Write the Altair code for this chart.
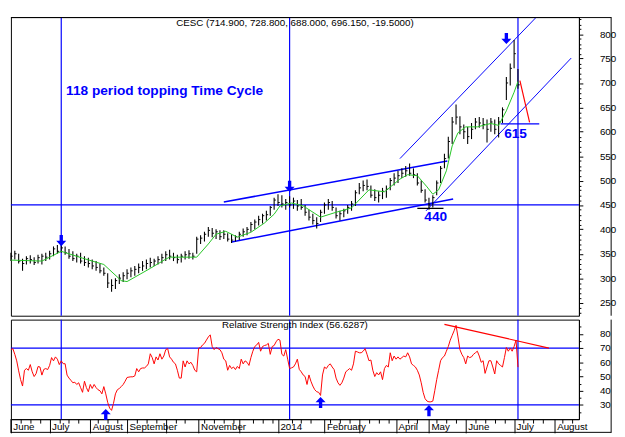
import json
import altair as alt
import pandas as pd

FONT = "Liberation Sans"
BLUE = "#0000FF"
RED = "#FF0000"
GREEN = "#22C422"

W = 582
H_PRICE = 306
H_RSI = 102

# ---------------- price bars (one bar every second session; index = session number)
bar_high = [352, 356, 350, 340, 345, 347, 343, 348, 350, 352,
            356, 365, 368, 370, 365, 360, 355, 350, 352, 345,
            342, 338, 335, 330, 322, 310, 298, 300, 308, 312,
            318, 322, 325, 330, 335, 338, 342, 340, 345, 350,
            355, 358, 352, 348, 350, 355, 357, 352, 385, 388,
            395, 405, 403, 400, 398, 398, 392, 390, 388, 395,
            402, 405, 415, 420, 428, 432, 438, 448, 465, 472,
            470, 462, 468, 465, 460, 462, 450, 440, 432, 425,
            440, 455, 462, 458, 445, 438, 442, 450, 458, 480,
            495, 500, 502, 490, 482, 478, 485, 490, 505, 515,
            520, 525, 530, 535, 525, 515, 500, 482, 465, 470,
            500, 530, 555, 590, 630, 656, 632, 615, 610, 618,
            628, 630, 628, 625, 628, 625, 630, 650, 712, 740,
            788, 728.8]
bar_low = [335, 338, 330, 315, 328, 330, 327, 330, 328, 335,
           338, 345, 350, 352, 348, 340, 335, 332, 330, 325,
           322, 318, 315, 310, 305, 280, 272, 278, 288, 292,
           298, 302, 305, 310, 315, 318, 322, 325, 328, 330,
           335, 338, 335, 330, 332, 338, 340, 338, 350, 370,
           375, 385, 384, 380, 378, 380, 375, 372, 375, 378,
           385, 388, 395, 400, 408, 412, 418, 428, 440, 448,
           445, 440, 445, 442, 438, 440, 428, 418, 410, 402,
           415, 432, 440, 438, 422, 418, 425, 432, 438, 448,
           472, 478, 480, 465, 458, 455, 462, 465, 480, 490,
           495, 505, 508, 510, 505, 490, 475, 455, 440, 445,
           470, 495, 525, 545, 575, 615, 595, 585, 575, 585,
           605, 608, 605, 578, 600, 595, 588, 618, 665, 695,
           730, 688]
bar_close = [345, 350, 335, 330, 340, 338, 332, 342, 345, 343,
             350, 360, 355, 362, 352, 345, 340, 345, 335, 332,
             330, 325, 322, 315, 310, 290, 285, 295, 300, 305,
             310, 315, 318, 322, 325, 330, 332, 335, 338, 342,
             348, 345, 342, 338, 345, 348, 350, 345, 380, 382,
             390, 398, 392, 395, 385, 390, 380, 378, 385, 390,
             395, 400, 410, 415, 420, 428, 430, 445, 460, 455,
             452, 455, 450, 458, 448, 445, 435, 425, 418, 412,
             435, 450, 455, 445, 428, 432, 438, 445, 452, 475,
             485, 490, 488, 470, 465, 470, 478, 482, 500, 505,
             510, 515, 520, 515, 512, 495, 480, 460, 450, 465,
             495, 525, 545, 580, 620, 630, 610, 600, 590, 605,
             620, 618, 615, 605, 620, 605, 620, 645, 700, 730,
             760, 696.15]

# ---------------- moving average (green)
ma_d = [0, 16, 26, 37, 48, 57, 60, 72, 80, 82, 96, 102, 106, 111, 117, 124, 131,
        136, 139, 145, 151, 160, 168, 176, 185, 193, 201, 205, 210, 215, 218, 221,
        225, 228, 231, 235, 241, 248, 252, 256, 260, 262]
ma_v = [337, 335, 355, 341, 328, 295, 293, 320, 339, 343, 343, 370, 390, 396, 384, 394, 413,
        431, 448, 454, 448, 425, 435, 444, 481, 477, 503, 512, 510, 487, 472, 481,
        520, 571, 598, 610, 610, 617, 613, 643, 681, 703]

# ---------------- RSI (one value per session)
rsi = [68.9, 69.6, 65.6, 61, 54, 47.8, 43.3, 54.4, 55.6, 54.4,
       58.4, 53.3, 50, 52, 57, 56.7, 51, 55, 55.6, 54.9,
       57.8, 63.3, 61, 63.8, 62.2, 58.4, 61, 59, 59, 51,
       48.9, 47.3, 45.6, 46, 44.4, 45.6, 42.2, 38.9, 46.7, 42.2,
       39.3, 44.4, 41.6, 44.4, 42.2, 40.7, 40, 37.8, 42.9, 37.8,
       31.8, 27.8, 26.2, 31.1, 37.8, 40.7, 41.6, 42.9, 44.4, 46.7,
       49.3, 49.6, 49.8, 49.8, 50.4, 55.6, 53.3, 55.6, 56, 56,
       57.1, 58.9, 66, 63.3, 58.9, 63.8, 61.6, 66, 62.2, 64.4,
       68.9, 69.6, 63.8, 62.2, 60, 58.9, 54.4, 48.9, 48.9, 61,
       56.7, 61, 58.9, 60, 57.8, 54.4, 53.3, 70, 70.4, 72.2,
       73.3, 75.6, 77.8, 79.3, 71.1, 68.9, 70.4, 69.6, 68.9, 66.7,
       62.2, 61, 54.4, 57.8, 55.6, 56.7, 54.9, 57.1, 55.6, 62.2,
       58.9, 61, 60, 57.8, 63.3, 67.8, 71.1, 72.2, 74, 67.8,
       71.1, 71.8, 72.2, 73.3, 65.6, 71.1, 71.8, 74.4, 76.2, 75.6,
       65.6, 64.4, 68.9, 62.2, 55.6, 56.1, 56.7, 58.9, 62.2, 55,
       53.3, 51.1, 50, 44.4, 51.1, 46.7, 43.3, 40.7, 39.3, 38.9,
       36.7, 51.1, 56.7, 55.6, 57.8, 58.9, 56.7, 54.9, 48.9, 45.6,
       43.8, 45.6, 48.9, 53.3, 54.4, 55.6, 54.4, 58.9, 67.8, 67.3,
       66.7, 66.7, 67.8, 69.6, 65.6, 61.1, 61.6, 54.4, 50, 52.7,
       51.1, 53.3, 47.8, 55.6, 57.8, 56.7, 66.7, 61.1, 64.4, 62.2,
       63.8, 62.2, 63.3, 64.4, 63.8, 66.7, 63.8, 58.9, 57.8, 56.7,
       54.4, 51.1, 45.6, 38.9, 34.4, 32.7, 32.2, 32.2, 32.7, 40,
       47.8, 54.4, 61.1, 63.3, 64.4, 67.8, 71.1, 75.6, 78.9, 82.2,
       86, 77.8, 68.9, 65.6, 63.3, 58.9, 64.4, 63.3, 63.8, 65.6,
       66.7, 67.8, 64.4, 60, 61.1, 52.2, 56.7, 61.1, 61.1, 56.7,
       51.8, 61.1, 58.9, 57.8, 56.7, 63.3, 70.4, 67.8, 70, 67.8,
       71.1, 75.6, 56.6]

# ---------------- annotations
cycle_d = [26, 144, 262]                       # 118-period time cycle
seg_d1 = [110, 114, 201, 214.5, 253, 210, 263]
seg_p1 = [456, 374, 545, 438, 616, 443, 705]
seg_d2 = [225.5, 228.5, 272, 289.5, 273, 223.5, 268]
seg_p2 = [540, 462, 837, 751, 616, 443, 619]
seg_col = [BLUE, BLUE, BLUE, BLUE, BLUE, "#000000", RED]
seg_w = [1.6, 1.6, 1, 1, 1.2, 1.2, 1.2]
top_arrow_d = [26, 144, 256]
top_arrow_p = [377, 488, 791]
low_arrow_d = [49, 160, 216]
low_arrow_r = [23.3, 31.7, 26]
rsi_trend_d = [224, 278]
rsi_trend_r = [86.7, 70]

month_d = [0, 20, 41, 60, 80, 97, 118, 138, 162, 180, 199, 216, 235, 260, 281]
month_lbl = ["June", "July", "August", "September", "", "November", "", "2014",
             "February", "", "April", "May", "June", "July", "August"]
week_d = [v for v in range(5, 294, 5) if min(abs(v - m) for m in month_d) > 2]

price_title = "CESC (714.900, 728.800, 688.000, 696.150, -19.5000)"
rsi_title = "Relative Strength Index (56.6287)"

# ---------------- frames
bars = pd.DataFrame({"d": [2 * i for i in range(len(bar_high))],
                     "high": bar_high, "low": bar_low, "close": bar_close})
ma = pd.DataFrame({"d": ma_d, "v": ma_v})
rsi_df = pd.DataFrame({"d": list(range(len(rsi))), "r": rsi})
segs = pd.DataFrame({"d1": seg_d1, "p1": seg_p1, "d2": seg_d2, "p2": seg_p2,
                     "c": seg_col, "w": seg_w})
cyc = pd.DataFrame({"d": cycle_d})

xs = alt.Scale(domain=[0, 293.5], nice=False, zero=False)
ys = alt.Scale(domain=[223, 835], nice=False, zero=False)
rs = alt.Scale(domain=[20, 90], nice=False, zero=False)

price_axis = alt.Axis(
    orient="right", title=None, grid=False, format="d",
    values=list(range(230, 840, 10)),
    labelExpr="datum.value % 50 == 0 ? datum.label : ''",
    tickSize={"condition": {"test": "datum.value % 50 == 0", "value": 4}, "value": 2},
    labelPadding=17, labelFont=FONT, labelFontSize=10, labelColor="black",
    domainColor="black", tickColor="black", labelOverlap=False)

rsi_axis = alt.Axis(
    orient="right", title=None, grid=False, format="d",
    values=list(range(25, 90, 5)),
    labelExpr="datum.value % 10 == 0 && datum.value >= 30 && datum.value <= 80 ? datum.label : ''",
    tickSize={"condition": {"test": "datum.value % 10 == 0", "value": 4}, "value": 2},
    labelPadding=17, labelFont=FONT, labelFontSize=10, labelColor="black",
    domainColor="black", tickColor="black", labelOverlap=False)

m_js = json.dumps(month_d)
l_js = json.dumps(month_lbl).replace('"', "'")
x_axis = alt.Axis(
    title=None, grid=False, values=sorted(month_d + week_d),
    labelExpr=f"indexof({m_js}, datum.value) >= 0 ? {l_js}[indexof({m_js}, datum.value)] : ''",
    tickSize={"condition": {"test": f"indexof({m_js}, datum.value) >= 0", "value": 14}, "value": 4},
    labelAlign="left", labelBaseline="top", labelPadding=-11, labelOffset=2,
    labelOverlap=False, labelFlush=False, labelFont=FONT, labelFontSize=10,
    labelColor="black", domainColor="black", tickColor="black")

X0 = alt.X("d:Q", scale=xs, axis=None)

def py(field):
    return alt.Y(field, scale=ys, axis=price_axis)

down_arrow = "M-0.3,-1L0.3,-1L0.3,0.05L0.9,0.05L0,1L-0.9,0.05L-0.3,0.05Z"
up_arrow = "M-0.3,1L0.3,1L0.3,-0.05L0.9,-0.05L0,-1L-0.9,-0.05L-0.3,-0.05Z"

# ---------------- price panel
p_h450 = alt.Chart(pd.DataFrame({"p": [450]})).mark_rule(color=BLUE, strokeWidth=1.2).encode(y=py("p:Q"))
p_cyc = alt.Chart(cyc).mark_rule(color=BLUE, strokeWidth=1.2).encode(x=X0)
p_seg = alt.Chart(segs).mark_rule(clip=True).encode(
    x=alt.X("d1:Q", scale=xs, axis=None), x2="d2:Q",
    y=py("p1:Q"), y2="p2:Q",
    color=alt.Color("c:N", scale=None), strokeWidth=alt.StrokeWidth("w:Q", scale=None))
p_bars = alt.Chart(bars).mark_rule(color="black", strokeWidth=1.1).encode(
    x=X0, y=py("low:Q"), y2="high:Q")
p_close = alt.Chart(bars).transform_calculate(d2="datum.d + 0.9").mark_rule(
    color="black", strokeWidth=1).encode(x=X0, x2="d2:Q", y=py("close:Q"))
p_ma = alt.Chart(ma).mark_line(color=GREEN, strokeWidth=1).encode(x=X0, y=py("v:Q"))
p_arrow = alt.Chart(pd.DataFrame({"d": top_arrow_d, "p": top_arrow_p})).mark_point(
    shape=down_arrow, filled=True, color=BLUE, size=130, opacity=1, strokeWidth=0).encode(
    x=X0, y=py("p:Q"))
p_cycle_txt = alt.Chart(pd.DataFrame({"d": [28.5], "p": [684], "t": ["118 period topping Time Cycle"]})).mark_text(
    align="left", baseline="middle", font=FONT, fontSize=14, fontWeight="bold", color=BLUE).encode(
    x=X0, y=py("p:Q"), text="t:N")
p_lvl_txt = alt.Chart(pd.DataFrame({"d": [219.5, 260.75], "p": [426, 596], "t": ["440", "615"]})).mark_text(
    align="center", baseline="middle", font=FONT, fontSize=14, fontWeight="bold", color=BLUE).encode(
    x=X0, y=py("p:Q"), text="t:N")
p_title = alt.Chart(pd.DataFrame({"t": [price_title]})).mark_text(
    align="center", baseline="middle", font=FONT, fontSize=10, color="black").encode(
    x=alt.value(W / 2), y=alt.value(6), text="t:N")
p_frame_top = alt.Chart(pd.DataFrame({"a": [0]})).mark_rule(color="black", strokeWidth=1).encode(
    x=alt.value(0), x2=alt.value(615), y=alt.value(0.5))
p_frame_right = alt.Chart(pd.DataFrame({"a": [0]})).mark_rule(color="black", strokeWidth=1).encode(
    x=alt.value(615), y=alt.value(0), y2=alt.value(H_PRICE))

price = alt.layer(p_h450, p_cyc, p_seg, p_bars, p_close, p_ma, p_arrow,
                  p_cycle_txt, p_lvl_txt, p_title, p_frame_top, p_frame_right).properties(
    width=W, height=H_PRICE)

# ---------------- RSI panel
XR = alt.X("d:Q", scale=xs, axis=x_axis)

def ry(field):
    return alt.Y(field, scale=rs, axis=rsi_axis)

r_lvls = alt.Chart(pd.DataFrame({"r": [70, 30]})).mark_rule(color=BLUE, strokeWidth=1.2).encode(y=ry("r:Q"))
r_cyc = alt.Chart(cyc).mark_rule(color=BLUE, strokeWidth=1.2).encode(x=XR)
r_line = alt.Chart(rsi_df).mark_line(color=RED, strokeWidth=1).encode(x=XR, y=ry("r:Q"))
r_trend = alt.Chart(pd.DataFrame({"d": rsi_trend_d, "r": rsi_trend_r})).mark_line(
    color=RED, strokeWidth=1.2).encode(x=XR, y=ry("r:Q"))
r_arrow = alt.Chart(pd.DataFrame({"d": low_arrow_d, "r": low_arrow_r})).mark_point(
    shape=up_arrow, filled=True, color=BLUE, size=130, opacity=1, strokeWidth=0).encode(
    x=XR, y=ry("r:Q"))
r_title = alt.Chart(pd.DataFrame({"t": [rsi_title]})).mark_text(
    align="center", baseline="middle", font=FONT, fontSize=10, color="black").encode(
    x=alt.value(W / 2), y=alt.value(6), text="t:N")
r_frame_right = alt.Chart(pd.DataFrame({"a": [0]})).mark_rule(color="black", strokeWidth=1).encode(
    x=alt.value(615), y=alt.value(0), y2=alt.value(116))
r_frame_bottom = alt.Chart(pd.DataFrame({"a": [0]})).mark_rule(color="black", strokeWidth=1).encode(
    x=alt.value(0), x2=alt.value(615), y=alt.value(115.5))
r_frame_left = alt.Chart(pd.DataFrame({"a": [0]})).mark_rule(color="black", strokeWidth=1).encode(
    x=alt.value(0), y=alt.value(H_RSI), y2=alt.value(116))

rsi_chart = alt.layer(r_lvls, r_cyc, r_line, r_trend, r_arrow, r_title,
                      r_frame_right, r_frame_bottom, r_frame_left).properties(
    width=W, height=H_RSI)

chart = alt.vconcat(price, rsi_chart, spacing=0).properties(
    padding={"left": 0, "top": 0, "right": 0, "bottom": 0},
    background="white").configure_view(
    stroke="black", strokeWidth=1).configure_concat(spacing=0)

chart.save("out.html", embed_options={"renderer": "svg", "actions": False})
